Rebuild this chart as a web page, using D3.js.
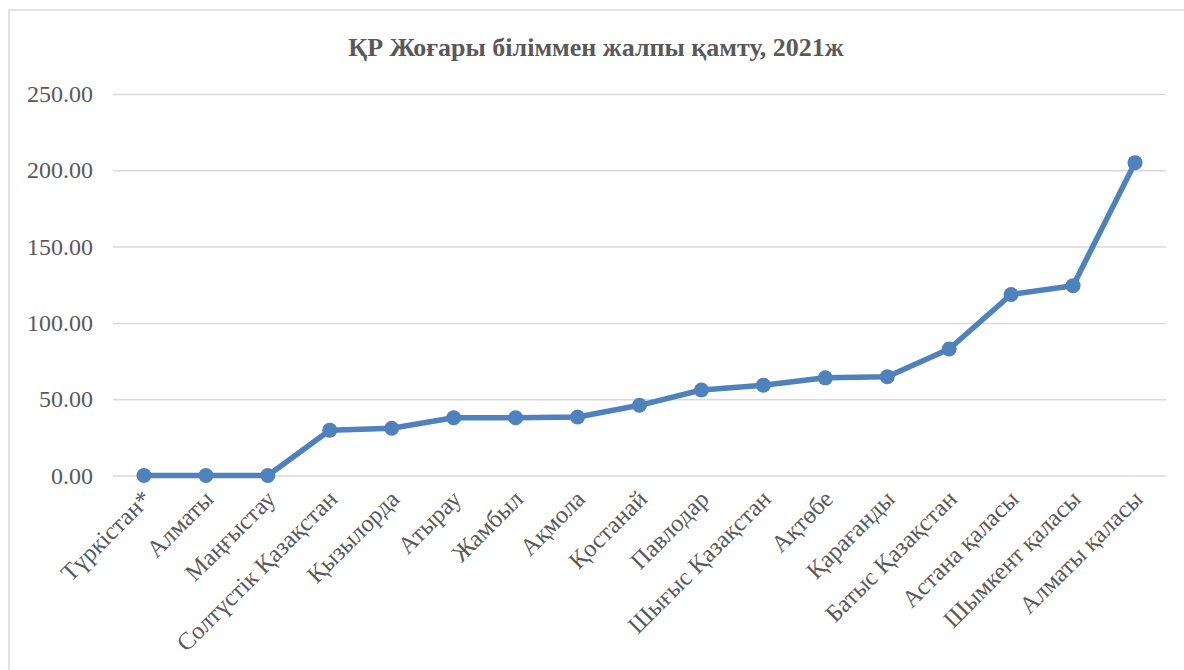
<!DOCTYPE html>
<html>
<head>
<meta charset="utf-8">
<script src="https://cdn.jsdelivr.net/npm/d3@7"></script>
<style>
  html, body { margin: 0; padding: 0; background: #fff; }
  svg { display: block; }
  text { font-family: "Liberation Serif", "Times New Roman", serif; }
</style>
</head>
<body>
<svg id="chart" width="1184" height="670"></svg>
<script>
// Regions of Kazakhstan, ordered by coverage
const regions = [
  "Түркістан*", "Алматы", "Маңғыстау", "Солтүстік Қазақстан", "Қызылорда",
  "Атырау", "Жамбыл", "Ақмола", "Қостанай", "Павлодар", "Шығыс Қазақстан",
  "Ақтөбе", "Қарағанды", "Батыс Қазақстан", "Астана  қаласы",
  "Шымкент қаласы", "Алматы қаласы"
];
// Higher education gross enrolment, 2021
const coverage = [
  0, 0, 0, 29.7, 31.0, 37.8, 37.8, 38.3, 46.0, 56.0, 59.2,
  64.0, 64.7, 82.9, 118.6, 124.4, 205.0
];
const yTicks = [0, 50, 100, 150, 200, 250];
const titleText = "ҚР Жоғары біліммен жалпы қамту, 2021ж";

const svg = d3.select("#chart");
const W = 1184, H = 670;
const plot = { left: 113, right: 1166, top: 94, bottom: 475.5 };
const serif = "'Liberation Serif', 'Times New Roman', serif";

// chart frame
svg.append("rect")
  .attr("x", 9).attr("y", 10)
  .attr("width", W + 20).attr("height", H + 20)
  .attr("fill", "#fff")
  .attr("stroke", "#d9d9d9").attr("stroke-width", 1.5);

svg.append("text")
  .attr("x", 596).attr("y", 56)
  .attr("text-anchor", "middle")
  .attr("font-size", 26).attr("font-weight", "bold")
  .attr("fill", "#595959")
  .text(titleText);

const x = d3.scaleBand().domain(regions).range([plot.left, plot.right]).padding(0);
const y = d3.scaleLinear().domain([0, 250]).range([plot.bottom, plot.top]);

// horizontal gridlines
const yAxis = d3.axisLeft(y).tickValues(yTicks)
  .tickSize(-(plot.right - plot.left)).tickPadding(20)
  .tickFormat(d3.format(".2f"));
const gy = svg.append("g").attr("transform", `translate(${plot.left},0)`).call(yAxis)
  .attr("font-family", serif);
gy.select(".domain").remove();
gy.selectAll(".tick line").attr("stroke", "#d9d9d9").attr("stroke-width", 1.5);
gy.selectAll(".tick text")
  .attr("font-size", 24).attr("fill", "#595959");

// category labels, rotated
const xAxis = d3.axisBottom(x).tickSize(0).tickPadding(0);
const gx = svg.append("g").attr("transform", `translate(0,${plot.bottom})`).call(xAxis)
  .attr("font-family", serif);
gx.select(".domain").remove();
gx.selectAll(".tick text")
  .attr("font-size", 24.5).attr("fill", "#595959")
  .attr("text-anchor", "end")
  .attr("dy", null).attr("y", 0)
  .attr("transform", "translate(9,25) rotate(-45)");

const cx = d => x(d) + x.bandwidth() / 2;
const line = d3.line().x((d, i) => cx(regions[i])).y(d => y(d));

svg.append("path")
  .datum(coverage)
  .attr("d", line)
  .attr("fill", "none")
  .attr("stroke", "#4f81bd").attr("stroke-width", 5.5)
  .attr("stroke-linejoin", "round");

svg.append("g").selectAll("circle")
  .data(coverage)
  .join("circle")
  .attr("cx", (d, i) => cx(regions[i]))
  .attr("cy", d => y(d))
  .attr("r", 7.5)
  .attr("fill", "#4f81bd");
</script>
</body>
</html>
